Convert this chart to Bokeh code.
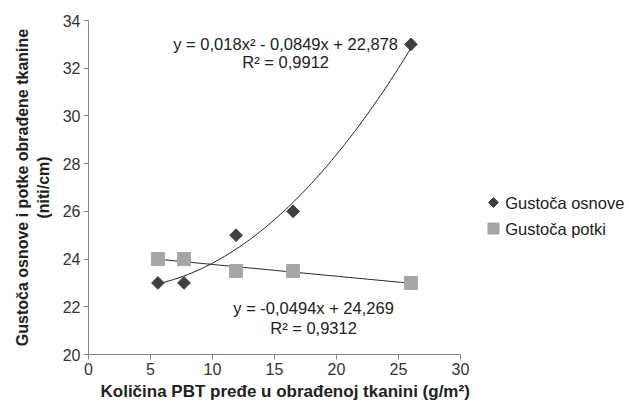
import numpy as np
from bokeh.plotting import figure
from bokeh.models import Label, ColumnDataSource, Title
from bokeh.core.properties import value
from bokeh.embed import file_html
from bokeh.resources import INLINE

# Data
x_vals = [5.6, 7.7, 11.9, 16.5, 26.0]
osnova = [23, 23, 25, 26, 33]
potka = [24, 24, 23.5, 23.5, 23]
series_names = ["Gustoča osnove", "Gustoča potki"]
poly_coef = [0.018, -0.0849, 22.878]   # quadratic trend (osnova)
lin_coef = [-0.0494, 24.269]           # linear trend (potka)
eq1 = ["y = 0,018x² - 0,0849x + 22,878", "R² = 0,9912"]
eq2 = ["y = -0,0494x + 24,269", "R² = 0,9312"]
x_ticks = [0, 5, 10, 15, 20, 25, 30]
y_ticks = [20, 22, 24, 26, 28, 30, 32, 34]

FONT = "Liberation Sans"
TXT = "#222222"

# frame spans to the right edge so the legend can sit inside it;
# the x axis itself is bounded to 0..30
X_MAX_VIEW = 541 / 12.4
p = figure(width=629, height=405, x_range=(0, X_MAX_VIEW), y_range=(20, 34),
           output_backend="svg", toolbar_location=None,
           min_border_left=88, min_border_right=0,
           min_border_top=20, min_border_bottom=51)
p.outline_line_color = None
p.grid.visible = False
p.background_fill_color = "white"

for ax in (p.xaxis[0], p.yaxis[0]):
    ax.axis_line_color = "#888888"
    ax.major_tick_line_color = "#888888"
    ax.minor_tick_line_color = None
    ax.major_tick_in = 0
    ax.major_tick_out = 5
    ax.major_label_text_font = FONT
    ax.major_label_text_font_size = "16px"
    ax.major_label_text_color = "#333333"
    ax.axis_label_text_font = FONT
    ax.axis_label_text_font_style = "bold"
    ax.axis_label_text_color = TXT
    ax.major_label_standoff = 3

p.xaxis.ticker = x_ticks
p.xaxis.bounds = (0, 30)
p.yaxis.ticker = y_ticks
p.yaxis.axis_label = "Gustoča osnove i potke obrađene tkanine\n(niti/cm)"
p.yaxis.axis_label_standoff = 8
p.yaxis.axis_label_text_font_size = "16px"

# x-axis title, aligned under the 0..30 axis
p.add_layout(Title(text="Količina PBT pređe u obrađenoj tkanini (g/m²)",
                   align="left", offset=12, standoff=4,
                   text_font=FONT, text_font_size="17px",
                   text_font_style="bold", text_color=TXT), "below")

# Trendlines (from the displayed equations)
xs = np.linspace(min(x_vals), max(x_vals), 100)
ys_poly = np.polyval(poly_coef, xs)
ys_lin = np.polyval(lin_coef, xs)
p.line(xs, ys_poly, line_color="#222222", line_width=1)
p.line(xs, ys_lin, line_color="#222222", line_width=1)

src = ColumnDataSource(dict(x=x_vals, o=osnova, p=potka))
p.scatter("x", "p", source=src, marker="square", size=13,
          fill_color="#a6a6a6", line_color="#a6a6a6")
p.scatter("x", "o", source=src, marker="square", size=9,
          angle=np.pi / 4, fill_color="#404040", line_color="#404040")

# Equation labels
for t, yy in zip(eq1, [33.03, 32.24]):
    p.add_layout(Label(x=15.9, y=yy, text=t, text_align="center",
                       text_baseline="middle", text_font=FONT,
                       text_font_size="16.5px", text_color=TXT))
for t, yy in zip(eq2, [21.97, 21.13]):
    p.add_layout(Label(x=18.15, y=yy, text=t, text_align="center",
                       text_baseline="middle", text_font=FONT,
                       text_font_size="16.5px", text_color=TXT))

# Legend (drawn manually to keep the diamond shape)
LX, LY1, LY2, TX = 32.66, 26.37, 25.28, 33.6
p.scatter([LX], [LY1], marker="square", size=7, angle=np.pi / 4,
          fill_color="#404040", line_color="#404040")
p.scatter([LX], [LY2], marker="square", size=11,
          fill_color="#a6a6a6", line_color="#a6a6a6")
p.text([TX, TX], [LY1, LY2], text=series_names, text_align="left",
       text_baseline="middle", text_font=value(FONT),
       text_font_size="16.5px", text_color=TXT)

open("out.html", "w").write(file_html(p, INLINE))
